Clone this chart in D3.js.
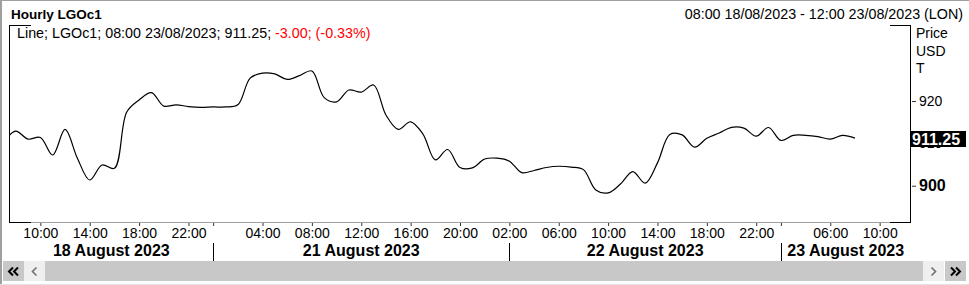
<!DOCTYPE html>
<html>
<head>
<meta charset="utf-8">
<script src="https://cdn.jsdelivr.net/npm/d3@7"></script>
<style>
    body { margin: 0; background: #fff; }
    svg { display: block; font-family: Arial, "Liberation Sans", sans-serif; }
</style>
</head>
<body>
<svg width="969" height="285"></svg>
<script>
// sessions shown on the axis (weekend removed, 00:00/01:00 missing on weekdays)
var dayNames = ["18 August 2023", "21 August 2023", "22 August 2023", "23 August 2023"];
var dayHours = [d3.range(7, 24), d3.range(0, 24), d3.range(2, 24), d3.range(2, 13)];
var tickHours = [[10, 14, 18, 22], [4, 8, 12, 16, 20], [2, 6, 10, 14, 18, 22], [6, 10]];

// hourly close, 07:00 18/08 .. 08:00 23/08
var prices = [
    910.1, 912.9, 911.0, 911.4, 907.25, 913.3, 906.5, 901.35, 904.9, 904.1,
    917.4, 920.25, 922.0, 918.8, 919.1, 918.7, 918.5,
    918.6, 918.6, 919.1, 925.4, 926.6, 926.4, 925.1, 926.0, 927.1, 920.8,
    919.8, 922.6, 922.1, 923.8, 916.7, 913.3, 915.1, 912.2, 906.1, 908.55,
    904.3, 904.2, 906.3, 906.5,
    905.8, 903.1, 903.6, 904.3, 904.6, 904.4, 903.8, 899.0, 898.3, 900.4,
    903.35, 900.6, 905.4, 912.1, 912.0, 909.1, 911.2, 912.45, 913.8, 913.6,
    911.7, 913.75,
    910.7, 911.9, 911.9, 911.6, 911.0, 911.9, 911.25
];
var prevClose = 914.25;
var yTicks = [900, 910, 920];
var yDomain = [891.43, 937.96];

var svg = d3.select("svg"),
    plot = {left: 9.5, right: 910.5, top: 25, bottom: 222};

// slot list
var slots = [];
dayHours.forEach(function (hours, d) {
    hours.forEach(function (h) {
        slots.push({day: d, hour: h});
    });
});
function slotIndex(d, h) {
    for (var k = 0; k < slots.length; k++) {
        if (slots[k].day === d && slots[k].hour === h) return k;
    }
    return -1;
}
function pad(h) { return (h < 10 ? "0" : "") + h + ":00"; }

var startIdx = slotIndex(0, 8),
    endIdx = slots.length - 1;

var x = d3.scaleLinear().domain([startIdx - 0.5, endIdx + 0.5]).range([plot.left, plot.right]),
    y = d3.scaleLinear().domain(yDomain).range([plot.bottom, plot.top]);

// outer frame
svg.append("rect").attr("x", 0).attr("y", 0).attr("width", 2).attr("height", 285).attr("fill", "#a0a0a0");
svg.append("rect").attr("x", 0).attr("y", 0).attr("width", 969).attr("height", 1).attr("fill", "#a0a0a0");
svg.append("rect").attr("x", 0).attr("y", 284).attr("width", 969).attr("height", 1).attr("fill", "#e3e3e3");

// titles
svg.append("text").attr("x", 11).attr("y", 19)
    .style("font-size", "13.5px").style("font-weight", "bold").text("Hourly LGOc1");
svg.append("text").attr("x", 963).attr("y", 18.5).attr("text-anchor", "end")
    .style("font-size", "14.3px").text("08:00 18/08/2023 - 12:00 23/08/2023 (LON)");

// plot frame
var frame = svg.append("g").attr("stroke-width", 1).attr("shape-rendering", "crispEdges");
frame.append("line").attr("x1", plot.left).attr("x2", plot.right).attr("y1", plot.bottom + 0.5).attr("y2", plot.bottom + 0.5).attr("stroke", "#a0a0a0");
frame.append("line").attr("x1", plot.left).attr("x2", plot.left).attr("y1", plot.top).attr("y2", plot.bottom + 1).attr("stroke", "#000");
frame.append("line").attr("x1", plot.right).attr("x2", plot.right).attr("y1", plot.top).attr("y2", plot.bottom + 1).attr("stroke", "#000");
[[plot.left, plot.left + 21], [plot.right - 21, plot.right]].forEach(function (s) {
    frame.append("line").attr("x1", s[0]).attr("x2", s[1]).attr("y1", plot.top + 0.5).attr("y2", plot.top + 0.5).attr("stroke", "#000");
    frame.append("line").attr("x1", s[0]).attr("x2", s[1]).attr("y1", plot.bottom + 0.5).attr("y2", plot.bottom + 0.5).attr("stroke", "#000");
});

// legend
var last = prices[prices.length - 1],
    change = last - prevClose;
var legend = svg.append("text").attr("x", 17).attr("y", 38).style("font-size", "14.3px");
legend.append("tspan").text("Line; LGOc1; 08:00 23/08/2023; " + last.toFixed(2) + "; ");
legend.append("tspan").attr("fill", "#ff0000")
    .text(change.toFixed(2) + "; (" + (change / prevClose * 100).toFixed(2) + "%)");

// the line
svg.append("clipPath").attr("id", "clip")
    .append("rect").attr("x", plot.left).attr("y", plot.top)
    .attr("width", plot.right - plot.left).attr("height", plot.bottom - plot.top);

var line = d3.line()
    .x(function (d, i) { return x(i); })
    .y(function (d) { return y(d); })
    .curve(d3.curveCatmullRom);

svg.append("path")
    .datum(prices)
    .attr("clip-path", "url(#clip)")
    .attr("fill", "none")
    .attr("stroke", "#000")
    .attr("stroke-width", 1.2)
    .attr("d", line);

// right axis
var yAxis = svg.append("g")
    .attr("transform", "translate(" + (plot.right + 1.5) + ",0)")
    .call(d3.axisRight(y).tickValues(yTicks).tickSize(4).tickPadding(3).tickFormat(d3.format("d")));
yAxis.select(".domain").remove();
yAxis.selectAll("line").attr("stroke", "#333");
yAxis.selectAll("text").attr("font-family", null).attr("font-size", null)
    .style("font-size", function (d) { return d === 900 ? "16px" : "14px"; })
    .style("font-weight", function (d) { return d === 900 ? "bold" : "normal"; });

[["Price", 38], ["USD", 56], ["T", 73]].forEach(function (t) {
    svg.append("text").attr("x", 916).attr("y", t[1]).style("font-size", "14px").text(t[0]);
});

// last value box
var ly = Math.round(y(last));
svg.append("rect").attr("x", 911).attr("y", ly - 7).attr("width", 55).attr("height", 16).attr("fill", "#000");
svg.append("text").attr("x", 912).attr("y", ly + 1).attr("dy", "0.35em")
    .attr("fill", "#fff").style("font-size", "16px").style("font-weight", "bold").text(last.toFixed(2));

// bottom axis
var dayStarts = dayHours.map(function (h, d) { return slotIndex(d, h[0]); }).slice(1);
var tickIdx = [], tickText = {};
tickHours.forEach(function (hs, d) {
    hs.forEach(function (h) {
        var k = slotIndex(d, h);
        tickIdx.push(k);
        tickText[k] = pad(h);
    });
});
dayStarts.forEach(function (k) {
    if (tickIdx.indexOf(k) < 0) tickIdx.push(k);
});

var xAxis = svg.append("g")
    .attr("transform", "translate(0," + (plot.bottom + 1) + ")")
    .call(d3.axisBottom(x).tickValues(tickIdx).tickSize(3).tickPadding(2)
        .tickFormat(function (k) { return tickText[k] || ""; }));
xAxis.select(".domain").remove();
xAxis.selectAll("text").attr("font-family", null).attr("font-size", null).style("font-size", "14px");
xAxis.selectAll("line").attr("stroke", "#333");

// day labels and separators
var bounds = [startIdx - 0.5].concat(dayStarts).concat([endIdx + 0.5]);
dayNames.forEach(function (name, d) {
    svg.append("text")
        .attr("x", (x(bounds[d]) + x(bounds[d + 1])) / 2)
        .attr("y", 256)
        .attr("text-anchor", "middle")
        .style("font-size", "16px").style("font-weight", "bold")
        .text(name);
});
svg.selectAll(".sep")
    .data(dayStarts)
    .enter().append("line")
    .attr("class", "sep")
    .attr("x1", function (k) { return Math.round(x(k)) + 0.5; })
    .attr("x2", function (k) { return Math.round(x(k)) + 0.5; })
    .attr("y1", 243).attr("y2", 261)
    .attr("stroke", "#000");

// scroll bar
svg.append("rect").attr("x", 45).attr("y", 261).attr("width", 878).attr("height", 20).attr("fill", "#c8c8c8");
var buttons = [
    {x: 3, fill: "#c8c8c8", color: "#000", dirs: [-1, -1]},
    {x: 24, fill: "#efefef", color: "#707070", dirs: [-1]},
    {x: 923, fill: "#efefef", color: "#707070", dirs: [1]},
    {x: 945, fill: "#c8c8c8", color: "#000", dirs: [1, 1]}
];
buttons.forEach(function (b) {
    svg.append("rect").attr("x", b.x).attr("y", 261).attr("width", 21).attr("height", 20).attr("fill", b.fill);
    var cx = b.x + 10.5, cy = 271.5;
    b.dirs.forEach(function (dir, j) {
        var off = b.dirs.length === 2 ? (j === 0 ? -2.5 : 2.5) : 0;
        var px = cx + off;
        svg.append("path")
            .attr("d", "M" + (px - 2 * dir) + "," + (cy - 4) + "L" + (px + 2 * dir) + "," + cy + "L" + (px - 2 * dir) + "," + (cy + 4))
            .attr("fill", "none").attr("stroke", b.color).attr("stroke-width", b.dirs.length === 2 ? 2 : 1.6);
    });
});
</script>
</body>
</html>
